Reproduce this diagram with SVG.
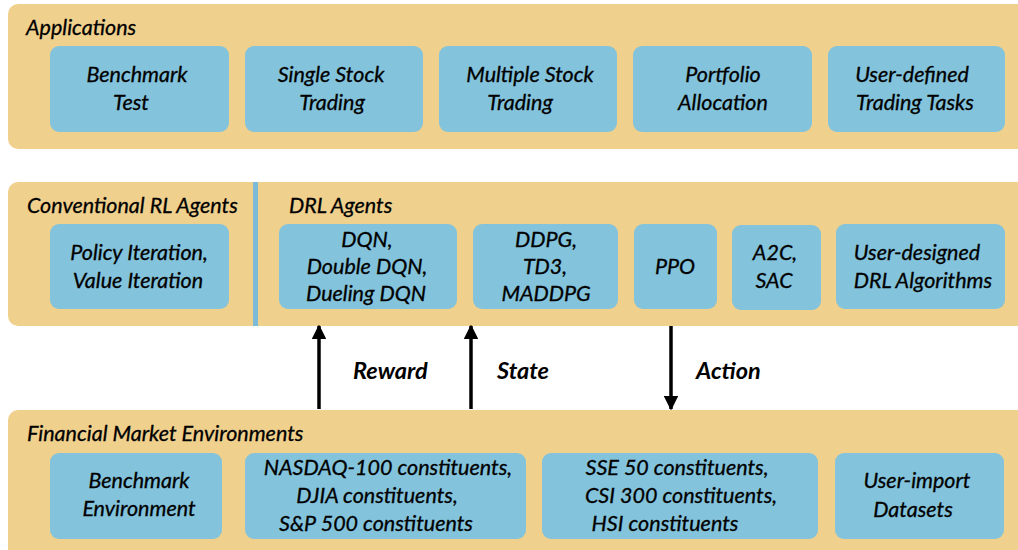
<svg xmlns="http://www.w3.org/2000/svg" width="1018" height="550" viewBox="0 0 1018 550">
<style>
.panel{fill:#F0D08D}
.box{fill:#83C3DB}
text{font-family:Lato,"Open Sans","Liberation Sans",sans-serif;font-style:italic;font-size:21.5px;fill:#000;stroke:#000;stroke-width:0.3}
.c{text-anchor:middle}
.lbl{font-weight:bold;font-size:23.5px;stroke-width:0}
.conn{stroke:#000;stroke-width:3.5;fill:none;marker-end:url(#ah)}
</style>
<defs>
<marker id="ah" viewBox="0 0 10 10" refX="9" refY="5" markerWidth="4.2" markerHeight="4.2" orient="auto" markerUnits="strokeWidth">
<path d="M0,0 L10,5 L0,10 z" fill="#000"/>
</marker>
</defs>
<rect width="1018" height="550" fill="#fff"/>

<g id="applications">
<rect class="panel" x="8" y="4" width="1030" height="145" rx="10"/>
<text x="26" y="35">Applications</text>
</g>
<g id="app-benchmark"><rect class="box" x="50" y="46" width="179" height="86" rx="9"/><text class="c" x="137" y="82">Benchmark</text><text class="c" x="131" y="110">Test</text></g>
<g id="app-single"><rect class="box" x="245" y="46" width="178" height="86" rx="9"/><text class="c" x="331" y="82">Single Stock</text><text class="c" x="332" y="110">Trading</text></g>
<g id="app-multiple"><rect class="box" x="439" y="46" width="178" height="86" rx="9"/><text class="c" x="530" y="82">Multiple Stock</text><text class="c" x="520" y="110">Trading</text></g>
<g id="app-portfolio"><rect class="box" x="633" y="46" width="179" height="86" rx="9"/><text class="c" x="723" y="82">Portfolio</text><text class="c" x="723" y="110">Allocation</text></g>
<g id="app-user"><rect class="box" x="828" y="46" width="177" height="86" rx="9"/><text class="c" x="912" y="82">User-defined</text><text class="c" x="915" y="110">Trading Tasks</text></g>

<g id="agents">
<rect class="panel" x="8" y="182" width="1030" height="144" rx="10"/>
<rect x="253" y="182" width="5" height="144" fill="#7BBBD8"/>
<text x="27" y="213">Conventional RL Agents</text>
<text x="289" y="213">DRL Agents</text>
</g>
<g id="agent-policy"><rect class="box" x="50" y="224" width="179" height="85" rx="9"/><text class="c" x="139" y="260">Policy Iteration,</text><text class="c" x="138" y="288">Value Iteration</text></g>
<g id="agent-dqn"><rect class="box" x="279" y="224" width="178" height="85" rx="9"/><text class="c" x="367" y="247">DQN,</text><text class="c" x="367" y="274">Double DQN,</text><text class="c" x="366" y="301">Dueling DQN</text></g>
<g id="agent-ddpg"><rect class="box" x="473" y="224" width="145" height="85" rx="9"/><text class="c" x="546" y="247">DDPG,</text><text class="c" x="545" y="274">TD3,</text><text class="c" x="546" y="301">MADDPG</text></g>
<g id="agent-ppo"><rect class="box" x="634" y="224" width="83" height="85" rx="9"/><text class="c" x="675" y="274">PPO</text></g>
<g id="agent-a2c"><rect class="box" x="732" y="225" width="89" height="85" rx="9"/><text class="c" x="775" y="260">A2C,</text><text class="c" x="774" y="288">SAC</text></g>
<g id="agent-user"><rect class="box" x="836" y="224" width="169" height="85" rx="9"/><text class="c" x="917" y="260">User-designed</text><text class="c" x="923" y="288">DRL Algorithms</text></g>

<g id="environments">
<rect class="panel" x="8" y="410" width="1030" height="160" rx="10"/>
<text x="27" y="441">Financial Market Environments</text>
</g>
<g id="env-benchmark"><rect class="box" x="50" y="453" width="172" height="86" rx="9"/><text class="c" x="139" y="488">Benchmark</text><text class="c" x="139" y="516">Environment</text></g>
<g id="env-us"><rect class="box" x="245" y="453" width="281" height="86" rx="9"/><text class="c" x="388" y="475">NASDAQ-100 constituents,</text><text class="c" x="377" y="503">DJIA constituents,</text><text class="c" x="376" y="531">S&amp;P 500 constituents</text></g>
<g id="env-cn"><rect class="box" x="542" y="453" width="276" height="86" rx="9"/><text class="c" x="677" y="475">SSE 50 constituents,</text><text class="c" x="681" y="503">CSI 300 constituents,</text><text class="c" x="665" y="531">HSI constituents</text></g>
<g id="env-user"><rect class="box" x="835" y="453" width="169" height="86" rx="9"/><text class="c" x="917" y="488">User-import</text><text class="c" x="913" y="517">Datasets</text></g>

<g id="connectors">
<line class="conn" x1="319" y1="409" x2="319" y2="326"/>
<line class="conn" x1="471" y1="409" x2="471" y2="326"/>
<line class="conn" x1="671" y1="326" x2="671" y2="409"/>
<text class="lbl" x="353" y="379">Reward</text>
<text class="lbl" x="497" y="379">State</text>
<text class="lbl" x="696" y="379">Action</text>
</g>
</svg>
